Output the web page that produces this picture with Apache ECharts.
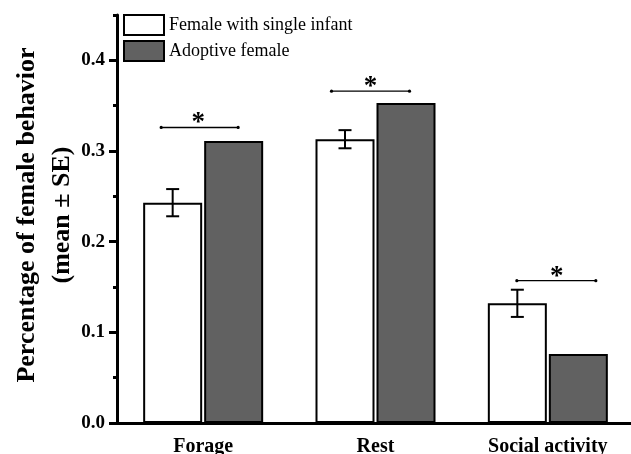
<!DOCTYPE html>
<html><head><meta charset="utf-8">
<script src="https://cdn.jsdelivr.net/npm/echarts@6/dist/echarts.min.js"></script>
<style>html,body{margin:0;padding:0;background:#fff}#c{width:631px;height:454px}</style>
</head><body><div id="c"></div>
<script>
// ---- data ----
const categories = ['Forage', 'Rest', 'Social activity'];
const seriesNames = ['Female with single infant', 'Adoptive female'];
const singleMean = [0.243, 0.313, 0.132];
const singleSE = [0.015, 0.010, 0.015];
const adoptiveMean = [0.311, 0.353, 0.076];
const sigLevels = [0.326, 0.366, 0.157];
const sigMarks = ['*', '*', '*'];
const yTickValues = [0, 0.1, 0.2, 0.3, 0.4];
const yMax = 0.45;

// ---- layout / style (not data) ----
const FONT = 'Liberation Serif';
const BAR_W = 59, BAR_GAP = 2;
const ERR_OFFSET = -(BAR_W + BAR_GAP) / 2;
const SIG_LAYOUT = [
  { l: -42, r: 35, s: -5 },
  { l: -44, r: 34, s: -5 },
  { l: -31, r: 48, s: 9 }
];

const chart = echarts.init(document.getElementById('c'), null, { renderer: 'canvas' });

const errData = categories.map((c, i) => [i, singleMean[i], singleSE[i]]);
const sigData = categories.map((c, i) => [i, sigLevels[i], sigMarks[i]]);

const option = {
  animation: false,
  backgroundColor: '#fff',
  grid: { left: 117, right: -3, top: 15, bottom: 31, containLabel: false, outerBoundsMode: 'none' },
  legend: {
    orient: 'vertical',
    left: 118, top: 9,
    itemWidth: 40, itemHeight: 20, itemGap: 4,
    selectedMode: false,
    icon: 'rect',
    data: seriesNames,
    textStyle: { fontFamily: FONT, fontSize: 18, color: '#000' }
  },
  xAxis: {
    type: 'category',
    data: categories,
    axisLine: { lineStyle: { color: '#000', width: 3 } },
    axisTick: { alignWithLabel: true, length: 8, lineStyle: { color: '#000', width: 3 } },
    axisLabel: { color: '#000', fontFamily: FONT, fontWeight: 'bold', fontSize: 20, margin: 14 }
  },
  yAxis: [{
    type: 'value',
    min: 0, max: yMax, interval: 0.05,
    name: 'Percentage of female behavior\n(mean \u00b1 SE)',
    nameLocation: 'middle',
    nameGap: 37,
    nameMoveOverlap: false,
    nameTextStyle: { color: '#000', fontFamily: FONT, fontWeight: 'bold', fontSize: 26, lineHeight: 35, padding: [0, 0, 0, 8] },
    axisLine: { show: true, lineStyle: { color: '#000', width: 3 } },
    axisTick: { show: true, length: 4, lineStyle: { color: '#000', width: 3 } },
    axisLabel: {
      color: '#000', fontFamily: FONT, fontWeight: 'bold', fontSize: 19, margin: 12,
      formatter: v => yTickValues.some(t => Math.abs(t - v) < 1e-9) ? v.toFixed(1) : ''
    },
    splitLine: { show: false }
  }, {
    type: 'value',
    position: 'left',
    min: 0, max: yMax, interval: 0.1,
    axisLine: { show: false },
    axisTick: { show: true, length: 8, customValues: yTickValues, lineStyle: { color: '#000', width: 3 } },
    axisLabel: { show: false },
    splitLine: { show: false }
  }],
  series: [
    {
      name: seriesNames[0], type: 'bar', data: singleMean,
      barWidth: BAR_W, barGap: (BAR_GAP / BAR_W * 100) + '%',
      itemStyle: { color: '#ffffff', borderColor: '#000', borderWidth: 2 }
    },
    {
      name: seriesNames[1], type: 'bar', data: adoptiveMean,
      barWidth: BAR_W,
      itemStyle: { color: '#616161', borderColor: '#000', borderWidth: 2 }
    },
    {
      type: 'custom', name: 'err', data: errData, z: 10,
      renderItem: function (params, api) {
        const i = api.value(0), v = api.value(1), e = api.value(2);
        const x = api.coord([i, v])[0] + ERR_OFFSET;
        const yt = api.coord([i, v + e])[1];
        const yb = api.coord([i, v - e])[1];
        const st = { stroke: '#000', lineWidth: 2 };
        return { type: 'group', children: [
          { type: 'line', shape: { x1: x, y1: yt, x2: x, y2: yb }, style: st },
          { type: 'line', shape: { x1: x - 6.5, y1: yt, x2: x + 6.5, y2: yt }, style: st },
          { type: 'line', shape: { x1: x - 6.5, y1: yb, x2: x + 6.5, y2: yb }, style: st }
        ] };
      }
    },
    {
      type: 'custom', name: 'sig', data: sigData, z: 10,
      renderItem: function (params, api) {
        const i = api.value(0), v = api.value(1);
        const p = api.coord([i, v]);
        const L = SIG_LAYOUT[i];
        const x1 = p[0] + L.l, x2 = p[0] + L.r, y = p[1];
        return { type: 'group', children: [
          { type: 'line', shape: { x1: x1, y1: y, x2: x2, y2: y }, style: { stroke: '#000', lineWidth: 1.4 } },
          { type: 'circle', shape: { cx: x1, cy: y, r: 1.6 }, style: { fill: '#000' } },
          { type: 'circle', shape: { cx: x2, cy: y, r: 1.6 }, style: { fill: '#000' } },
          { type: 'text', x: p[0] + L.s, y: y - 4, style: {
              text: sigMarks[i], fontFamily: FONT, fontWeight: 'bold', fontSize: 27, fill: '#000',
              align: 'center', verticalAlign: 'middle' } }
        ] };
      }
    }
  ]
};
chart.setOption(option);
</script></body></html>
